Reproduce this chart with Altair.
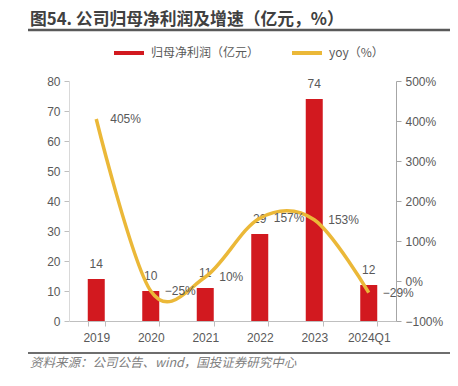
import altair as alt
import pandas as pd

years = ["2019", "2020", "2021", "2022", "2023", "2024Q1"]
profit = [14, 10, 11, 29, 74, 12]          # 归母净利润（亿元）
yoy = [405, -25, 10, 157, 153, -29]        # yoy（%）
s_profit = "归母净利润（亿元）"
s_yoy = "yoy（%）"
title_text = "图54. 公司归母净利润及增速（亿元，%）"
source_text = "资料来源：公司公告、wind，国投证券研究中心"

df = pd.DataFrame({"year": years, "profit": profit, "yoy": yoy,
                   "s1": [s_profit] * len(years), "s2": [s_yoy] * len(years)})
one = pd.DataFrame({"d": [0]})

FONT = "Liberation Sans, Noto Sans CJK SC"
CJK = "Noto Sans CJK SC"
RED = "#D2191F"
GOLD = "#EBB838"
GRAY = "#595959"

color_scale = alt.Scale(domain=[s_profit, s_yoy], range=[RED, GOLD])
legend = alt.Legend(
    title=None, orient="none", legendX=43, legendY=-45, direction="horizontal",
    symbolType="stroke", symbolSize=900, symbolStrokeWidth=4,
    labelFont=CJK, labelFontSize=12, labelColor=GRAY, labelOffset=5,
    columnPadding=24, padding=0, labelLimit=300,
)

x = alt.X("year:N", sort=years, title=None,
          scale=alt.Scale(paddingInner=0.68, paddingOuter=0.34),
          axis=alt.Axis(labelAngle=0, tickBand="extent", domainColor="#BFBFBF",
                        tickColor="#BFBFBF", tickSize=5, labelPadding=6,
                        labelFontSize=12, labelColor=GRAY, labelFont=FONT))

y1 = alt.Y("profit:Q", title=None, scale=alt.Scale(domain=[0, 80]),
           axis=alt.Axis(orient="left", values=list(range(0, 81, 10)), grid=False,
                         domainColor="#D9D9D9", tickColor="#BFBFBF", tickSize=5,
                         labelColor=GRAY, labelFontSize=12, labelPadding=4, labelFont=FONT))

y2 = alt.Y("yoy:Q", title=None, scale=alt.Scale(domain=[-100, 500]),
           axis=alt.Axis(orient="right", values=list(range(-100, 501, 100)), grid=False,
                         domainColor="#A6A6A6", tickColor="#A6A6A6", tickSize=5,
                         labelColor=GRAY, labelFontSize=12, labelPadding=4, labelFont=FONT,
                         labelExpr="format(datum.value, 'd') + '%'"))

base = alt.Chart(df)

bars = base.mark_bar(size=17).encode(
    x=x, y=y1, color=alt.Color("s1:N", scale=color_scale, legend=legend))
bar_text = base.mark_text(dy=-15, baseline="middle", fontSize=12, color=GRAY, font=FONT).encode(
    x=x, y=y1, text=alt.Text("profit:Q", format="d"))

line = base.mark_line(interpolate="cardinal", strokeWidth=3.5).encode(
    x=x, y=y2, color=alt.Color("s2:N", scale=color_scale, legend=legend))
line_text = base.transform_calculate(
    lab="format(datum.yoy, 'd') + '%'"
).mark_text(align="left", dx=14, baseline="middle", fontSize=12, color=GRAY, font=FONT).encode(
    x=x, y=y2, text="lab:N")

title_mark = alt.Chart(one).mark_text(
    text=title_text, align="left", baseline="alphabetic", fontSize=16.8, fontWeight="bold",
    font=CJK, color="#404040").encode(x=alt.value(-39), y=alt.value(-56))
title_rule = alt.Chart(one).mark_rule(color="#595959", strokeWidth=2.5).encode(
    x=alt.value(-41), x2=alt.value(381), y=alt.value(-51))
foot_rule = alt.Chart(one).mark_rule(color="#6E6E6E", strokeWidth=2).encode(
    x=alt.value(-41), x2=alt.value(381), y=alt.value(272))
foot_text = alt.Chart(one).mark_text(
    text=source_text, align="left", baseline="middle", fontSize=12.5, fontStyle="italic",
    font=CJK, color="#808080").encode(x=alt.value(-39), y=alt.value(282))

chart = alt.layer(
    alt.layer(bars, bar_text),
    alt.layer(line, line_text),
    title_mark, title_rule, foot_rule, foot_text,
).resolve_scale(y="independent").properties(
    width=327, height=240,
    autosize=alt.AutoSizeParams(type="none"),
    padding={"left": 61, "top": 73, "right": 54, "bottom": 57},
).configure_view(stroke=None)

chart.save("out.html", embed_options={"renderer": "svg", "actions": False})
